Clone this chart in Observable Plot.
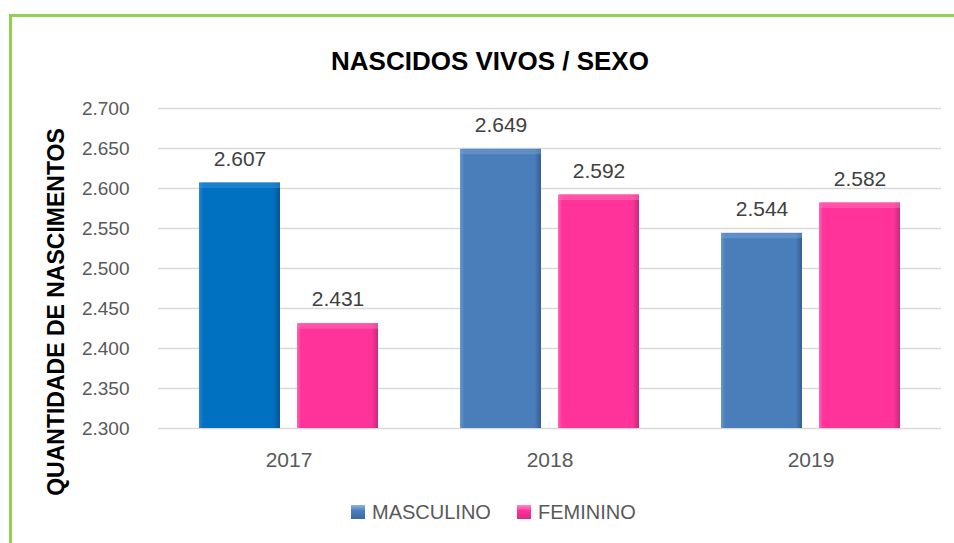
<!DOCTYPE html>
<html>
<head>
<meta charset="utf-8">
<script src="https://cdn.jsdelivr.net/npm/d3@7"></script>
<script src="https://cdn.jsdelivr.net/npm/@observablehq/plot@0.6"></script>
<style>
  html, body { margin: 0; padding: 0; background: #fff; }
  #wrap { position: relative; width: 954px; height: 543px; overflow: hidden; font-family: "Liberation Sans", Arial, sans-serif; }
  #border { position: absolute; left: 9px; top: 14px; width: 2000px; height: 2000px; border-left: 3px solid #92D050; border-top: 3px solid #92D050; }
  #title { position: absolute; left: 0; width: 980px; top: 46px; text-align: center; font-weight: bold; font-size: 26px; color: #000; line-height: 30px; }
  #ylabel { position: absolute; left: 56px; top: 312px; transform: translate(-50%, -50%) rotate(-90deg); white-space: nowrap; font-weight: bold; font-size: 23px; color: #000; }
  #chart { position: absolute; left: 0; top: 0; }
  .leg { position: absolute; top: 501px; font-size: 20px; color: #595959; line-height: 22px; white-space: nowrap; }
  .sw { position: absolute; width: 14px; height: 14px; top: 505px; }
</style>
</head>
<body>
<div id="wrap">
  <div id="border"></div>
  <div id="chart"></div>
  <div id="title">NASCIDOS VIVOS / SEXO</div>
  <div id="ylabel">QUANTIDADE DE NASCIMENTOS</div>
  <div class="sw" style="left:351px;background:linear-gradient(180deg,#8fb4e3 0%,#4a7ebb 40%,#3a6aa3 100%);"></div>
  <div class="leg" style="left:372px;">MASCULINO</div>
  <div class="sw" style="left:517px;background:linear-gradient(180deg,#ff8cc6 0%,#ff3399 40%,#d92a82 100%);"></div>
  <div class="leg" style="left:538px;">FEMININO</div>
</div>
<script>
const years = ["2017", "2018", "2019"];
const sexes = ["MASCULINO", "FEMININO"];
const masculino = [2607, 2649, 2544];
const feminino = [2431, 2592, 2582];
const yTicks = [2300, 2350, 2400, 2450, 2500, 2550, 2600, 2650, 2700];

const data = years.flatMap((y, i) => [
  {year: y, sex: sexes[0], value: masculino[i]},
  {year: y, sex: sexes[1], value: feminino[i]}
]);

const fmt = d3.formatLocale({decimal: ",", thousands: ".", grouping: [3], currency: ["R$", ""]}).format(",");

const fillOf = d => d.sex === "FEMININO" ? "url(#gPink)" : (d.year === "2017" ? "url(#gBlue2017)" : "url(#gBlue)");
const bevelOf = d => d.sex === "FEMININO" ? "#ff7dbf" : (d.year === "2017" ? "#3b97dc" : "#7aa3d8");

const svg = Plot.plot({
  width: 954,
  height: 543,
  marginLeft: 157,
  marginRight: 12,
  marginTop: 108,
  marginBottom: 115,
  style: {fontFamily: '"Liberation Sans", Arial, sans-serif', fontSize: "19px", color: "#595959", background: "transparent", overflow: "visible"},
  fx: {domain: years, padding: 0, label: null},
  x: {domain: sexes, paddingInner: 0.177, paddingOuter: 0.407, axis: null},
  y: {domain: [2300, 2700], label: null},
  color: {type: "identity"},
  marks: [
    Plot.gridY(yTicks, {stroke: "#d9d9d9", strokeOpacity: 1, strokeWidth: 1.5}),
    Plot.axisY(yTicks, {tickSize: 0, tickPadding: 29, tickFormat: fmt, label: null, fontSize: 19}),
    Plot.axisFx({anchor: "bottom", tickSize: 0, tickPadding: 24, label: null, fontSize: 21}),
    Plot.barY(data, {fx: "year", x: "sex", y: "value", fill: fillOf, clip: true}),
    Plot.tickY(data, {fx: "year", x: "sex", y: "value", stroke: bevelOf, strokeWidth: 5, dy: 2.5, strokeOpacity: 0.45}),
    Plot.text(data, {fx: "year", x: "sex", y: "value", text: d => fmt(d.value), dy: -24, fill: "#404040", fontSize: 21})
  ]
});

const defs = d3.select(svg).insert("defs", ":first-child");
function grad(id, light, base, dark) {
  const g = defs.append("linearGradient").attr("id", id).attr("x1", 0).attr("x2", 1).attr("y1", 0).attr("y2", 0);
  g.append("stop").attr("offset", "0%").attr("stop-color", light);
  g.append("stop").attr("offset", "5%").attr("stop-color", base);
  g.append("stop").attr("offset", "92%").attr("stop-color", base);
  g.append("stop").attr("offset", "100%").attr("stop-color", dark);
}
grad("gBlue2017", "#2a88d0", "#0070C0", "#0a5592");
grad("gBlue", "#6a97cf", "#4A7EBB", "#345e8f");
grad("gPink", "#ff66b3", "#FF3399", "#c62a7c");

document.getElementById("chart").appendChild(svg);
</script>
</body>
</html>
